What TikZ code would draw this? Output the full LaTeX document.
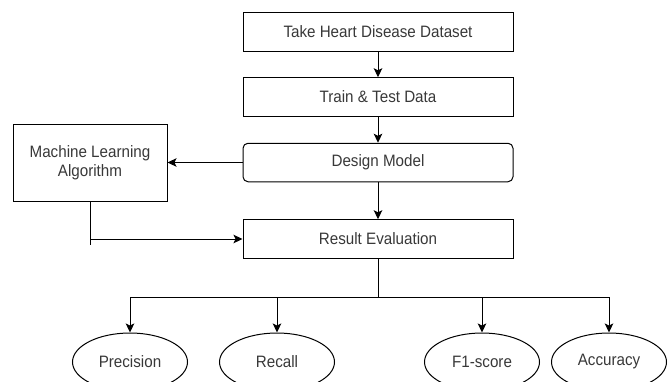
\documentclass[tikz,border=0pt]{standalone}
\usepackage{fontspec}
\setmainfont{Liberation Sans}[FakeStretch=0.92]
\usetikzlibrary{shapes.geometric,arrows.meta}
\begin{document}
\begin{tikzpicture}[x=1pt,y=-1pt,
  every node/.style={font=\fontsize{16.5}{18.5}\selectfont, text=black!78},
  box/.style={draw=black, line width=1pt, minimum width=270pt, minimum height=38.5pt, inner sep=0pt},
  rbox/.style={box, rounded corners=5pt},
  mlbox/.style={draw=black, line width=1pt, minimum width=154pt, minimum height=77pt, align=center, inner sep=0pt},
  oval/.style={draw=black, line width=1pt, ellipse, minimum width=115pt, minimum height=58pt, inner sep=0pt},
  conn/.style={draw=black, line width=1pt},
  arr/.style={conn, -{Stealth[length=9pt,width=8.5pt,inset=2pt]}}]
\useasboundingbox (0,0) rectangle (670,381);
\clip (0,0) rectangle (670,381);
\node[box] (take) at (378,32) {Take Heart Disease Dataset};
\node[box] (train) at (378,97) {Train \& Test Data};
\node[rbox] (design) at (378,162.5) {Design Model};
\node[mlbox] (ml) at (90,162.5) {Machine Learning\\Algorithm};
\node[box] (result) at (378,239) {Result Evaluation};
\node[oval] (prec) at (130,362) {Precision};
\node[oval] (rec) at (277,362) {Recall};
\node[oval] (f1) at (482,362) {F1-score};
\node[oval] (acc) at (609,362) {Accuracy};
\coordinate (mljoin) at (90,239);
\coordinate (mlend) at (90,245);
\coordinate (split) at (378,297);
\draw[arr] (take) -- (train);
\draw[arr] (train) -- (design);
\draw[arr] (design) -- (ml);
\draw[arr] (design) -- (result);
\draw[conn] (ml.south) -- (mlend);
\draw[arr] (mljoin) -- (result.west);
\draw[conn] (result.south) -- (split);
\draw[arr] (split) -| (prec.north);
\draw[arr] (split) -| (rec.north);
\draw[arr] (split) -| (f1.north);
\draw[arr] (split) -| (acc.north);
\end{tikzpicture}
\end{document}
